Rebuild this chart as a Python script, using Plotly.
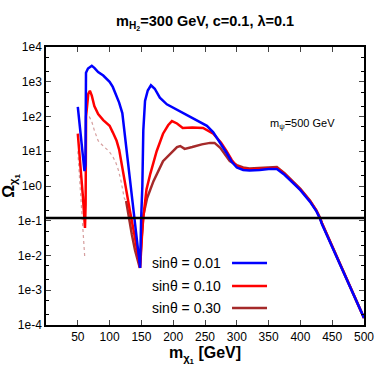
import plotly.graph_objects as go

# ---------------- data ----------------
mass_blue = [50, 52, 55, 58, 60.5, 62, 62.9, 66, 72, 76, 82, 90, 100, 105, 110, 115, 120, 125, 130,
             135, 140, 144, 148, 149.5, 151.5, 153, 155.7, 160, 165, 171, 179, 190, 200, 211, 231,
             253, 263, 275, 284, 292, 300, 310, 320, 336, 350, 363, 375, 389, 400, 415, 425, 431,
             434, 500]
omega_blue = [190, 89, 28, 7.9, 2.7, 4.0, 1820, 2400, 2880, 2510, 1905, 1510, 1000, 710, 447, 251,
              126, 20, 2.24, 0.355, 0.063, 0.0158, 0.0044, 0.1, 1.0, 40, 282, 560, 794, 630, 347,
              224, 178, 145, 91, 54, 35, 16.6, 8.9, 5.0, 3.4, 2.9, 2.8, 2.9, 3.1, 3.1, 2.1, 1.2,
              0.76, 0.355, 0.19, 0.112, 0.079, 1.6e-4]

mass_red = [50, 52, 55, 58, 61.3, 62.3, 63, 66.5, 69, 72, 76, 82, 90, 100, 105, 111, 115, 120, 125,
            132, 140, 148, 151, 153, 158, 164, 174, 184, 192, 198, 206, 215, 230, 247, 263, 275,
            284, 292, 300, 310, 320, 336, 350, 363, 375, 389, 400, 415, 425, 431, 434, 500]
omega_red = [32, 12.6, 3.16, 0.5, 0.062, 0.3, 100, 447, 550, 400, 200, 117, 79, 54, 35, 20, 11.2,
             3.16, 0.89, 0.19, 0.032, 0.0044, 0.04, 0.126, 0.79, 2.24, 10, 32, 56, 74, 63, 47, 48,
             47, 32, 17.8, 10, 5.6, 3.7, 3.16, 3.0, 3.1, 3.3, 3.3, 2.24, 1.23, 0.79, 0.37, 0.2,
             0.117, 0.083, 1.6e-4]

# sin(theta)=0.30 : sparse (dotted) pieces and the solid piece
mass_brown_dots1 = [50, 52, 55, 56.6, 58, 59.7, 61]
omega_brown_dots1 = [10, 2.7, 0.72, 0.22, 0.058, 0.016, 0.0085]
mass_brown_dots2 = [68, 72, 76, 82, 90, 99, 105, 110, 114, 118, 123, 126]
omega_brown_dots2 = [100, 71, 40, 20, 14.1, 10, 7.1, 4.6, 2.8, 1.38, 0.45, 0.355]
mass_brown = [126, 130, 135, 140, 145, 147.5, 150, 153, 159, 169, 184, 200, 206, 211, 218, 230,
              245, 258, 265, 274, 282, 289, 300, 310, 320, 336, 350, 363, 375, 389, 400, 415, 425,
              431, 434, 500]
omega_brown = [0.37, 0.126, 0.04, 0.0141, 0.0056, 0.0044, 0.025, 0.141, 0.45, 1.38, 5.2, 10, 13.2,
               14.1, 11.7, 13.2, 15.8, 17.4, 17.4, 12.6, 7.9, 5.2, 4.0, 3.4, 3.2, 3.3, 3.5, 3.5,
               2.34, 1.26, 0.83, 0.38, 0.2, 0.12, 0.085, 1.6e-4]

planck_x = [0, 500]
planck_omega = [0.12, 0.12]

series_labels = ["sinθ = 0.01", "sinθ = 0.10", "sinθ = 0.30"]
series_colors = ["#0000ff", "#ff0000", "#a52a2a"]

x_ticks = [50, 100, 150, 200, 250, 300, 350, 400, 450, 500]
y_ticks = [1e-4, 1e-3, 1e-2, 1e-1, 1e0, 1e1, 1e2, 1e3, 1e4]
y_ticktext = ["1e-4", "1e-3", "1e-2", "1e-1", "1e0", "1e1", "1e2", "1e3", "1e4"]

FONT = "Liberation Sans Narrow, Liberation Sans, Arial, sans-serif"

fig = go.Figure()
fig.add_trace(go.Scatter(x=mass_brown_dots1, y=omega_brown_dots1, mode="lines",
                         line=dict(color=series_colors[2], width=1.2, dash="dot"),
                         opacity=0.45, showlegend=False))
fig.add_trace(go.Scatter(x=mass_brown_dots2, y=omega_brown_dots2, mode="lines",
                         line=dict(color=series_colors[2], width=1.2, dash="dot"),
                         opacity=0.45, showlegend=False))
fig.add_trace(go.Scatter(x=mass_brown, y=omega_brown, mode="lines",
                         line=dict(color=series_colors[2], width=2.5), showlegend=False))
fig.add_trace(go.Scatter(x=mass_red, y=omega_red, mode="lines",
                         line=dict(color=series_colors[1], width=2.5), showlegend=False))
fig.add_trace(go.Scatter(x=mass_blue, y=omega_blue, mode="lines",
                         line=dict(color=series_colors[0], width=2.5), showlegend=False))
fig.add_trace(go.Scatter(x=planck_x, y=planck_omega, mode="lines",
                         line=dict(color="black", width=2.5), showlegend=False))

# legend drawn gnuplot-style: text on the left, line sample on the right
legend_y = [0.223, 0.140, 0.061]
for lab, col, ly in zip(series_labels, series_colors, legend_y):
    fig.add_annotation(x=0.557, y=ly, xref="paper", yref="paper", text=lab, showarrow=False,
                       xanchor="right", yanchor="middle", font=dict(family=FONT, size=14, color="black"))
    fig.add_shape(type="line", xref="paper", yref="paper", x0=0.585, x1=0.695, y0=ly, y1=ly,
                  line=dict(color=col, width=2.5))

fig.add_annotation(x=0.698, y=0.755, xref="paper", yref="paper", text="m<sub>ψ</sub>=500 GeV",
                   showarrow=False, xanchor="left", font=dict(family=FONT, size=11, color="black"))

fig.update_layout(
    width=382, height=382,
    margin=dict(l=46, r=18, t=47, b=57, autoexpand=False),
    paper_bgcolor="white", plot_bgcolor="white",
    font=dict(family=FONT, size=12, color="black"),
    title=dict(text="<b>m<sub>H<sub>2</sub></sub>=300 GeV, c=0.1, λ=0.1</b>", x=0.537, y=0.945,
               xanchor="center", yanchor="middle", font=dict(family=FONT, size=14.5)),
)
fig.update_xaxes(range=[0, 500], tickmode="array", tickvals=x_ticks, automargin=False,
                 ticktext=[str(v) for v in x_ticks], ticks="inside", ticklen=5,
                 showline=True, linecolor="black", linewidth=1.5, mirror="allticks",
                 showgrid=False, zeroline=False, tickfont=dict(size=12),
                 title=dict(text="<b>m<sub>χ<sub>1</sub></sub> [GeV]</b>", font=dict(size=16), standoff=4))
fig.update_yaxes(type="log", range=[-4, 4], tickmode="array", tickvals=y_ticks, ticktext=y_ticktext,
                 automargin=False,
                 ticks="inside", ticklen=5, showline=True, linecolor="black", linewidth=1.5,
                 mirror="allticks", showgrid=False, zeroline=False, tickfont=dict(size=12),
                 minor=dict(ticks="inside", ticklen=3, dtick="D2", tickcolor="black", showgrid=False),
                 title=dict(text="<b>Ω<sub>χ<sub>1</sub></sub></b>", font=dict(size=16), standoff=6))

fig.write_html("out.html", config={"displayModeBar": False},
               post_script="document.body.style.margin='0';")
